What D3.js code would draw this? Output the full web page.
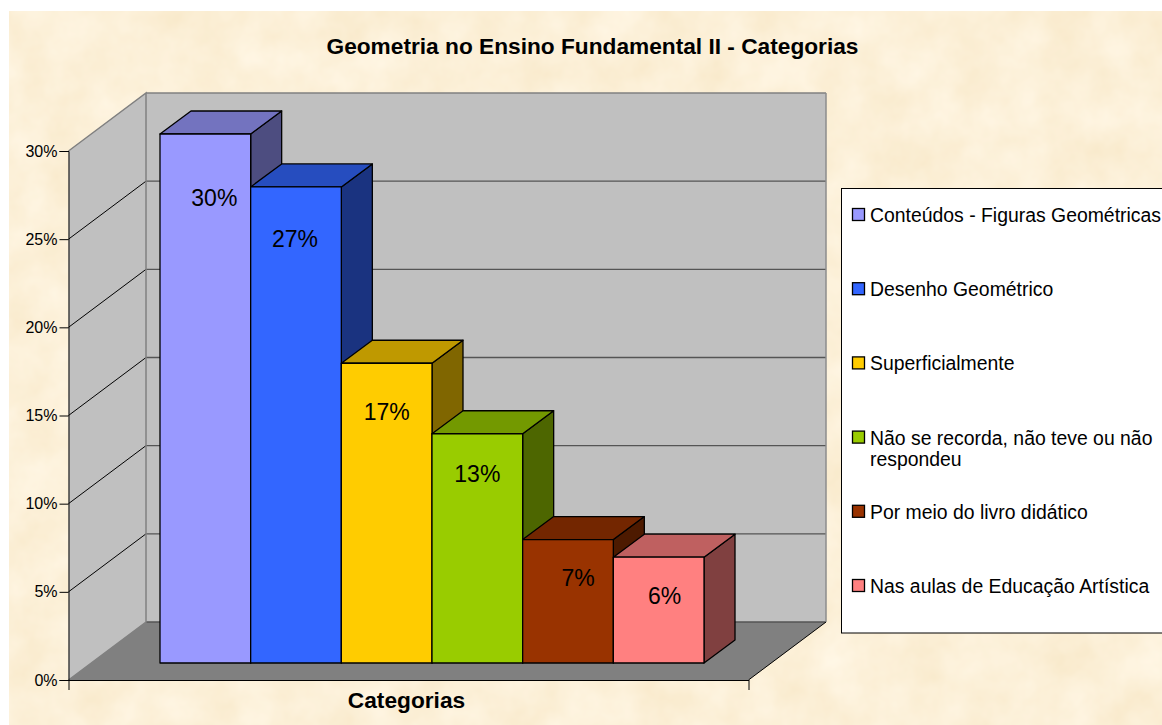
<!DOCTYPE html>
<html lang="pt">
<head>
<meta charset="utf-8">
<title>Geometria no Ensino Fundamental II - Categorias</title>
<script src="https://cdn.jsdelivr.net/npm/d3@7"></script>
<style>
  html, body { margin: 0; padding: 0; background: #fff; overflow: hidden; }
  text { font-family: "Liberation Sans", Arial, sans-serif; fill: #000; }
</style>
</head>
<body>
<div id="chart"></div>
<script>
// Dados
const categorias = [
  'Conteúdos - Figuras Geométricas',
  'Desenho Geométrico',
  'Superficialmente',
  'Não se recorda, não teve ou não respondeu',
  'Por meio do livro didático',
  'Nas aulas de Educação Artística'
];
const valores = [30, 27, 17, 13, 7, 6];
const yTicks = [0, 5, 10, 15, 20, 25, 30];
const cores = ['#9999ff', '#3366ff', '#ffcc00', '#99cc00', '#993300', '#ff8080'];
const titulo = 'Geometria no Ensino Fundamental II - Categorias';
const tituloEixo = 'Categorias';

// Ajuste dos rótulos em relação ao centro da barra (não seguem regra fixa no original)
const rotuloDx = [9, -1, 0, 0, 10, 6];
const rotuloDy = [64, 52, 48, 40, 38, 39];

const width = 1162, height = 725;
const svg = d3.select('#chart').append('svg')
  .attr('width', width).attr('height', height)
  .style('display', 'block');

// Fundo tipo pergaminho
const defs = svg.append('defs');
const paper = defs.append('filter').attr('id', 'paper')
  .attr('color-interpolation-filters', 'sRGB')
  .attr('x', 0).attr('y', 0).attr('width', '100%').attr('height', '100%');
paper.append('feTurbulence')
  .attr('type', 'fractalNoise').attr('baseFrequency', 0.022)
  .attr('numOctaves', 4).attr('seed', 7).attr('result', 'n');
paper.append('feColorMatrix').attr('in', 'n').attr('type', 'matrix')
  .attr('values', '0 0 0 0.03 0.973  0 0 0 0.06 0.911  0 0 0 0.12 0.787  0 0 0 0 1');

svg.append('rect')
  .attr('x', 9).attr('y', 11).attr('width', width - 9).attr('height', height - 11)
  .attr('fill', '#fcf0d8')
  .attr('filter', 'url(#paper)');

// Escalas
const y = d3.scaleLinear().domain([0, 30]).range([680, 151]);
const xAxisLeft = 68.5, xAxisRight = 748.5;
const depth = { dx: 77.5, dy: -58 };      // profundidade das paredes
const barDepth = { dx: 31, dy: -23 };     // profundidade das barras
const barLift = 17;                       // recuo da base das barras

const x = d3.scaleBand()
  .domain(categorias)
  .range([160, 704])
  .padding(0);

const poly = pts => pts.map(p => p.join(',')).join(' ');

// Paredes e chão
const wallTop = y(30) + depth.dy;
const wallBottom = y(0) + depth.dy;
const backLeft = xAxisLeft + depth.dx;
const backRight = xAxisRight + depth.dx;

svg.append('polygon')
  .attr('points', poly([[backLeft, wallTop], [backRight, wallTop], [backRight, wallBottom], [backLeft, wallBottom]]))
  .attr('fill', '#c0c0c0');
svg.append('polygon')
  .attr('points', poly([[xAxisLeft, y(30)], [backLeft, wallTop], [backLeft, wallBottom], [xAxisLeft, y(0)]]))
  .attr('fill', '#c0c0c0');
svg.append('polygon')
  .attr('points', poly([[xAxisLeft, y(0)], [backLeft, wallBottom], [backRight, wallBottom], [xAxisRight, y(0)]]))
  .attr('fill', '#808080');

// Linhas de grade
const grades = svg.append('g');
grades.selectAll('.grade-fundo')
  .data(yTicks)
  .enter().append('line')
  .attr('class', 'grade-fundo')
  .attr('x1', backLeft).attr('x2', backRight)
  .attr('y1', d => y(d) + depth.dy).attr('y2', d => y(d) + depth.dy)
  .attr('stroke', d => d === 30 ? '#808080' : '#555')
  .attr('stroke-width', d => d === 30 ? 1.5 : 1.3);
grades.selectAll('.grade-lado')
  .data(yTicks.filter(d => d > 0 && d < 30))
  .enter().append('line')
  .attr('class', 'grade-lado')
  .attr('x1', xAxisLeft).attr('x2', backLeft)
  .attr('y1', d => y(d)).attr('y2', d => y(d) + depth.dy)
  .attr('stroke', '#000').attr('stroke-width', 1);

// Contornos cinza das paredes
svg.append('path')
  .attr('d', `M${xAxisLeft},${y(30)}L${backLeft},${wallTop}V${wallBottom}L${xAxisLeft},${y(0)}`)
  .attr('fill', 'none').attr('stroke', '#808080').attr('stroke-width', 1.5);
svg.append('line')
  .attr('x1', backRight).attr('x2', backRight)
  .attr('y1', wallTop).attr('y2', wallBottom)
  .attr('stroke', '#8c8c8c').attr('stroke-width', 1.5);
svg.append('line')
  .attr('x1', xAxisRight).attr('y1', y(0))
  .attr('x2', backRight).attr('y2', wallBottom)
  .attr('stroke', '#000').attr('stroke-width', 1);

// Eixo Y
const yAxis = d3.axisLeft(y)
  .tickValues(yTicks)
  .tickFormat(d => d + '%')
  .tickSize(9)
  .tickPadding(2);
const gy = svg.append('g')
  .attr('transform', `translate(${xAxisLeft},0)`)
  .call(yAxis);
gy.select('.domain').attr('stroke', '#000').attr('stroke-width', 1);
gy.selectAll('.tick line').attr('stroke', '#000');
gy.selectAll('text').style('font-size', '16px').attr('fill', '#000');

// Eixo X (só as duas marcas das pontas)
const gx = svg.append('g').attr('transform', `translate(0,${y(0)})`);
const xEixo = d3.scaleLinear().domain([0, 1]).range([xAxisLeft, xAxisRight]);
gx.call(d3.axisBottom(xEixo).tickValues([0, 1]).tickFormat('').tickSize(10).tickSizeOuter(0));
gx.select('.domain').attr('stroke', '#000').attr('stroke-width', 1.2);
gx.selectAll('.tick line').attr('stroke', '#000');

// Barras 3D
const barras = svg.selectAll('.barra')
  .data(categorias.map((c, i) => ({ c, v: valores[i], cor: cores[i], i })))
  .enter().append('g')
  .attr('class', 'barra')
  .attr('stroke', '#000')
  .attr('stroke-width', 1.3)
  .attr('stroke-linejoin', 'round');

const topo = d => y(d.v) - barLift;
const base = () => y(0) - barLift;

barras.append('polygon') // face lateral
  .attr('points', d => {
    const r = x(d.c) + x.bandwidth();
    return poly([[r, topo(d)], [r + barDepth.dx, topo(d) + barDepth.dy], [r + barDepth.dx, base() + barDepth.dy], [r, base()]]);
  })
  .attr('fill', d => { const c = d3.rgb(d.cor); return d3.rgb(c.r * 0.5, c.g * 0.5, c.b * 0.5); });

barras.append('polygon') // face de cima
  .attr('points', d => {
    const l = x(d.c), r = l + x.bandwidth();
    return poly([[l, topo(d)], [l + barDepth.dx, topo(d) + barDepth.dy], [r + barDepth.dx, topo(d) + barDepth.dy], [r, topo(d)]]);
  })
  .attr('fill', d => { const c = d3.rgb(d.cor); return d3.rgb(c.r * 0.75, c.g * 0.75, c.b * 0.75); });

barras.append('rect') // face da frente
  .attr('x', d => x(d.c))
  .attr('y', d => topo(d))
  .attr('width', x.bandwidth())
  .attr('height', d => base() - topo(d))
  .attr('fill', d => d.cor);

barras.append('text')
  .attr('x', d => x(d.c) + x.bandwidth() / 2 + rotuloDx[d.i])
  .attr('y', d => topo(d) + rotuloDy[d.i])
  .attr('dy', '0.36em')
  .attr('text-anchor', 'middle')
  .attr('stroke', 'none')
  .style('font-size', '23px')
  .text(d => d.v + '%');

// Títulos
svg.append('text')
  .attr('x', 592.5).attr('y', 54)
  .attr('text-anchor', 'middle')
  .style('font-size', '22.7px').style('font-weight', 'bold')
  .text(titulo);
svg.append('text')
  .attr('x', 406.5).attr('y', 708)
  .attr('text-anchor', 'middle')
  .style('font-size', '22.7px').style('font-weight', 'bold')
  .text(tituloEixo);

// Legenda
svg.append('rect')
  .attr('x', 841.5).attr('y', 188.5)
  .attr('width', 340).attr('height', 444.5)
  .attr('fill', '#fff').attr('stroke', '#000').attr('stroke-width', 1);

const yLegenda = d3.scalePoint().domain(categorias).range([215, 586]);
const itens = svg.selectAll('.item')
  .data(categorias.map((c, i) => ({ c, cor: cores[i] })))
  .enter().append('g')
  .attr('class', 'item')
  .attr('transform', d => `translate(852,${yLegenda(d.c)})`);
itens.append('rect')
  .attr('x', 0.5).attr('y', -6.5)
  .attr('width', 12).attr('height', 12)
  .attr('fill', d => d.cor).attr('stroke', '#000').attr('stroke-width', 1.3);
itens.append('text')
  .attr('x', 18).attr('y', 0).attr('dy', '0.36em')
  .style('font-size', '19.4px')
  .each(function (d) {
    // a quarta entrada quebra em duas linhas
    const t = d3.select(this);
    const m = d.c.match(/^(.*não) (respondeu)$/);
    if (m) {
      t.append('tspan').attr('x', 18).text(m[1]);
      t.append('tspan').attr('x', 18).attr('dy', '21.5px').text(m[2]);
    } else {
      t.text(d.c);
    }
  });
</script>
</body>
</html>
